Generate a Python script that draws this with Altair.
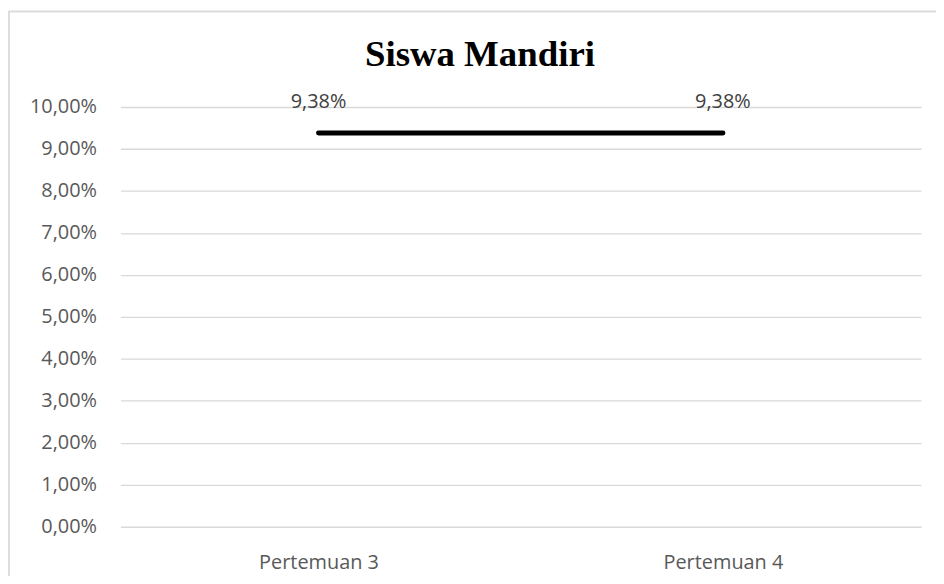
import altair as alt
import pandas as pd

categories = ["Pertemuan 3", "Pertemuan 4"]
values = [0.0938, 0.0938]
y_ticks = [0.0, 0.01, 0.02, 0.03, 0.04, 0.05, 0.06, 0.07, 0.08, 0.09, 0.10]
title_text = "Siswa Mandiri"

df = pd.DataFrame({"kategori": categories, "nilai": values})
df_title = pd.DataFrame({"t": [title_text]})

W, H = 805, 422

x_enc = alt.X("kategori:N", sort=categories,
              scale=alt.Scale(type="point", padding=0.49),
              axis=alt.Axis(title=None, domain=False, ticks=False, grid=False,
                            labelAngle=0, labelFont="Open Sans", labelFontSize=20,
                            labelColor="#595959", labelPadding=26))
y_enc = alt.Y("nilai:Q", scale=alt.Scale(domain=[0, 0.1], nice=False),
              axis=alt.Axis(title=None, values=y_ticks, domain=False, ticks=False,
                            grid=True, gridColor="#d9d9d9", gridWidth=1.3,
                            labelFont="Open Sans", labelFontSize=20, labelColor="#595959",
                            labelPadding=24,
                            labelExpr="replace(format(datum.value, '.2%'), '.', ',')"))

border = alt.Chart(df).mark_rect(fill=None, stroke="#d9d9d9", strokeWidth=1.3).encode(
    x=alt.value(-112), x2=alt.value(W + 40), y=alt.value(-96), y2=alt.value(H + 120)
)

title = alt.Chart(df_title).mark_text(
    font="Liberation Serif", fontSize=37, fontWeight="bold", color="black",
    baseline="alphabetic", align="center"
).encode(x=alt.value(W / 2 - 41), y=alt.value(-41), text="t:N")

line = alt.Chart(df).mark_line(color="black", strokeWidth=5, strokeCap="round").encode(
    x=x_enc, y=y_enc
)

labels = alt.Chart(df).transform_calculate(
    lbl="replace(format(datum.nilai, '.2%'), '.', ',')"
).mark_text(font="Open Sans", fontSize=20, color="#404040", baseline="alphabetic", dy=-25).encode(
    x=alt.X("kategori:N", sort=categories), y="nilai:Q", text="lbl:N"
)

chart = alt.layer(border, title, line, labels).properties(
    width=W, height=H,
    autosize=alt.AutoSizeParams(type="none"),
    padding={"left": 113, "top": 98, "right": 15, "bottom": 48},
).configure_view(stroke=None)

chart.save("out.html", embed_options={"renderer": "svg", "actions": False})
